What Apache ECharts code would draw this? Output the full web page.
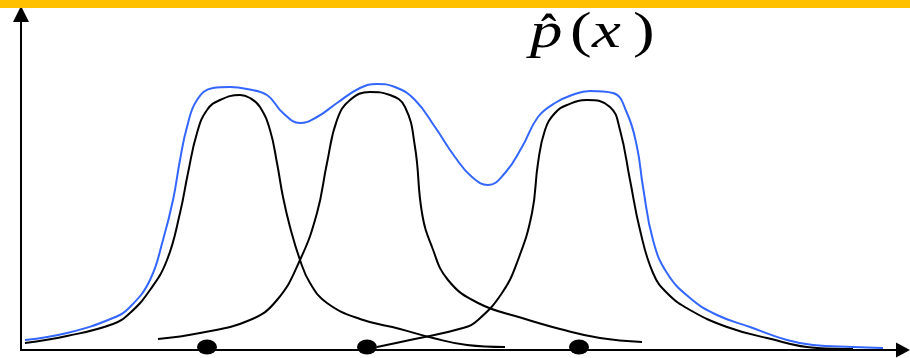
<!DOCTYPE html>
<html>
<head>
<meta charset="utf-8">
<script src="https://cdn.jsdelivr.net/npm/echarts@6/dist/echarts.min.js"></script>
<style>
  html, body { margin: 0; padding: 0; background: #fff; }
  #chart { width: 910px; height: 358px; }
</style>
</head>
<body>
<div id="chart"></div>
<script>
// Kernel density estimate: three kernels (black) and their sum (blue).
// Coordinates are [x, density] in axis units.
const sumCurve = [
  [4,10],[46,17],[92,32],[109,43],[129,70],[142,110],[152,150],[159,190],[166,223],
  [176,250],[192,262],[209,263],[226,261],[246,255],[262,237],[279,227],[296,233],
  [316,247],[339,262],[356,266],[374,263],[394,250],[414,223],[434,193],[451,173],
  [467,165],[484,177],[501,203],[517,233],[534,247],[551,255],[569,259],[592,257],
  [606,237],[616,203],[622,163],[632,110],[646,77],[669,52],[696,35],[729,23],
  [766,10],[792,5],[832,3],[862,2]
];
const kernelA = [
  [4,7],[46,14],[92,26],[109,37],[129,60],[146,90],[159,137],[167,177],[176,217],
  [186,240],[199,250],[219,255],[229,252],[239,243],[249,220],[256,187],[262,153],
  [269,123],[279,90],[289,67],[306,47],[339,31],[379,21],[412,12],[446,5],[484,3]
];
const kernelB = [
  [137,11],[179,17],[229,30],[256,50],[279,90],[296,137],[306,187],[316,230],[329,250],
  [349,258],[369,255],[384,243],[394,203],[401,137],[411,103],[427,70],[457,47],
  [501,32],[539,21],[579,12],[621,8]
];
const kernelC = [
  [356,3],[389,10],[442,22],[457,30],[481,57],[497,90],[511,137],[517,187],[524,220],
  [534,237],[546,245],[566,250],[589,243],[599,220],[609,170],[619,120],[632,77],
  [646,57],[669,40],[706,23],[746,12],[796,2],[832,1]
];
// Sample locations on the x axis
const samples = [[186,3],[346,3],[558,3]];

const chart = echarts.init(document.getElementById('chart'), null, { renderer: 'canvas' });

const lineSeries = (data, color) => ({
  type: 'line',
  data: data,
  smooth: 0.45,
  showSymbol: false,
  symbol: 'none',
  lineStyle: { color: color, width: 2 },
  z: 3,
  silent: true
});

const serif = '"Liberation Serif", "DejaVu Serif", serif';
const glyph = (text, x, y, italic) => ({
  type: 'text', x: x, y: y, scaleX: 1.3, z: 100,
  style: { text: text, font: (italic ? 'italic ' : '') + '50px ' + serif,
    fill: '#000', verticalAlign: 'top', align: 'left' }
});

chart.setOption({
  animation: false,
  backgroundColor: '#ffffff',
  grid: { left: 21, right: 7, top: 14, bottom: 8 },
  xAxis: {
    type: 'value', min: 0, max: 882,
    axisLine: { show: true, onZero: false, lineStyle: { color: '#000', width: 2 },
      symbol: ['none', 'triangle'], symbolSize: [15, 14] },
    axisTick: { show: false }, axisLabel: { show: false }, splitLine: { show: false }
  },
  yAxis: {
    type: 'value', min: 0, max: 336,
    axisLine: { show: true, onZero: false, lineStyle: { color: '#000', width: 2 },
      symbol: ['none', 'triangle'], symbolSize: [16, 16] },
    axisTick: { show: false }, axisLabel: { show: false }, splitLine: { show: false }
  },
  series: [
    lineSeries(sumCurve, '#3366ff'),
    lineSeries(kernelA, '#000000'),
    lineSeries(kernelB, '#000000'),
    lineSeries(kernelC, '#000000'),
    {
      type: 'scatter',
      data: samples,
      symbol: 'path://M0,10 A10,10 0 1 1 20,10 A10,10 0 1 1 0,10 Z',
      symbolSize: [20, 15],
      itemStyle: { color: '#000', opacity: 1 },
      z: 5,
      silent: true
    }
  ],
  graphic: [
    { type: 'rect', left: 0, top: 0, shape: { width: 910, height: 8 },
      style: { fill: '#ffc000' }, z: 100 },
    glyph('p', 530, 9, true),
    { type: 'text', x: 541, y: 11, z: 100,
      style: { text: '\u02C6', font: 'bold 46px ' + serif, fill: '#000', verticalAlign: 'top' } },
    glyph('(', 570, 9, false),
    glyph('x', 592, 9, true),
    glyph(')', 633, 9, false)
  ]
});
</script>
</body>
</html>
